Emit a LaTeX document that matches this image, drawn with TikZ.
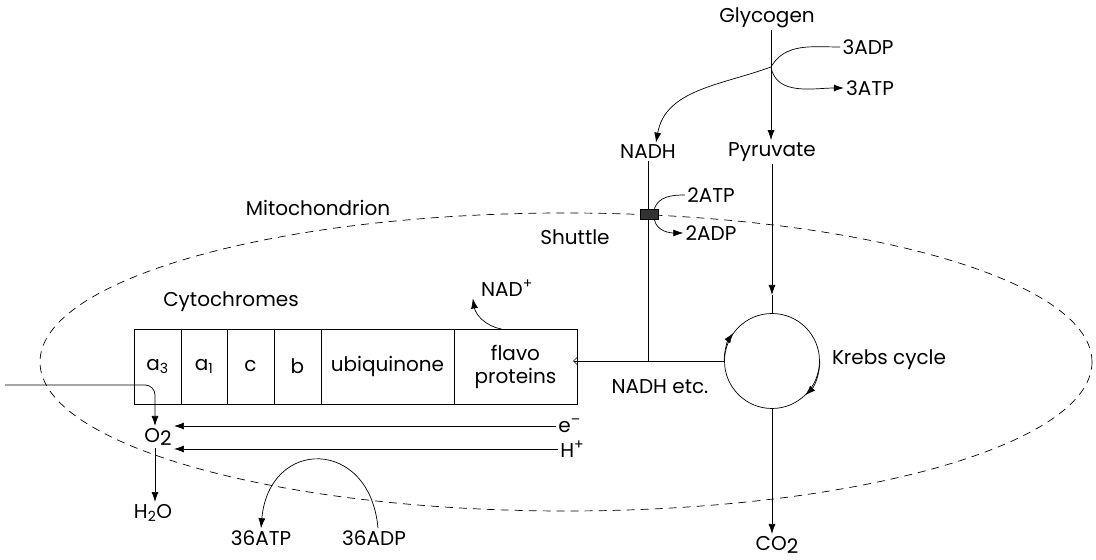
\documentclass[tikz,border=0pt]{standalone}
\usepackage{fontspec}
\setmainfont{Poppins}
\usetikzlibrary{arrows.meta}

\begin{document}
\begin{tikzpicture}
        [x=1pt,y=1pt,line width=0.7pt,
         every node/.style={font=\fontsize{20}{23}\selectfont,inner sep=2pt},
         arr/.style={-{Latex[length=10pt,width=7pt]}},
         cell/.style={draw,minimum height=75pt,inner sep=0pt,outer sep=0pt,anchor=west},
         membrane/.style={dash pattern=on 8pt off 6pt}]
        \useasboundingbox (0,0) rectangle (1096,560);

        % mitochondrion outline
        \draw[membrane] (566,198) ellipse [x radius=526, y radius=149];
        \node (mito) at (318,352) {Mitochondrion};

        % glycolysis
        \node (glyc) at (767,542) {Glycogen};
        \node (adp3) at (868,513) {3ADP};
        \node (atp3) at (870,472) {3ATP};
        \coordinate (junc) at (771,493);
        \node (nadh) at (648,408) {NADH};
        \node (pyr) at (772,408) {Pyruvate};

        \draw[arr] (glyc.south -| junc) -- (pyr.north -| junc);
        \draw (adp3.west) to[out=180,in=60] (junc);
        \draw[arr] (junc) to[out=-80,in=180] (atp3.west);
        \draw[arr] (junc) to[out=200,in=80] ([xshift=8pt]nadh.north);

        % Krebs cycle
        \node[draw,circle,minimum size=95pt,inner sep=0pt] (krebs) at (772,199) {};
        \node (krebslbl) at (889,200) {Krebs cycle};
        \draw[arr] (krebs.180) arc[start angle=180,end angle=144,radius=47.5pt];
        \draw[arr] (krebs.0) arc[start angle=0,end angle=-46,radius=47.5pt];
        \coordinate (pyrtip) at (772,265);
        \draw[arr] (pyr.south -| pyrtip) -- (pyrtip);
        \draw (pyrtip) -- (krebs.north);
        \node (co2) at (777,15) {CO\raisebox{-0.3ex}{2}};
        \draw[arr] (krebs.south) -- (krebs.south |- co2.north);

        % shuttle
        \coordinate (joint) at (nadh |- krebs.west);
        \draw (nadh) -- (joint);
        \node[draw,fill=black!80,minimum width=18pt,minimum height=10pt,inner sep=0pt] (shut) at (649,346) {};
        \node (atp2) at (711,365) {2ATP};
        \node (adp2) at (711,327) {2ADP};
        \node (shuttlelbl) at (575,323) {Shuttle};
        \draw (atp2.west) to[out=180,in=70] ([xshift=-4pt]shut.north east);
        \draw[arr] ([xshift=-4pt]shut.south east) to[out=-80,in=180] (adp2.west);

        % respiratory chain
        \node (cyto) at (231,258) {Cytochromes};
        \node[cell,minimum width=47pt] (a3) at (134,193.5) {a\textsubscript{3}};
        \node[cell,minimum width=46pt] (a1) at (a3.east) {a\textsubscript{1}};
        \node[cell,minimum width=47pt] (cc) at (a1.east) {c};
        \node[cell,minimum width=47pt] (bb) at (cc.east) {b};
        \node[cell,minimum width=133pt] (ubq) at (bb.east) {ubiquinone};
        \node[cell,minimum width=123pt,align=center] (flavo) at (ubq.east) {flavo\\proteins};
        \node (nadhetc) at (660,173) {NADH etc.};
        \draw[-{Straight Barb[length=4pt,width=8pt]},shorten >=-4pt] (krebs.west) -- (flavo.east |- krebs.west);
        \node (nadp) at (507,272) {NAD\textsuperscript{+}};
        \draw[arr] ([xshift=-14pt]flavo.north) to[out=170,in=-80] ([xshift=-6pt]nadp.south west);

        % oxygen
        \node (o2) at (158,123) {O\raisebox{-0.3ex}{2}};
        \coordinate (oin) at (5,175);
        \coordinate (odrop) at (155,0);
        \draw[arr,rounded corners=10pt] (oin) -| (odrop |- o2.north);
        \node (h2o) at (153,47) {H\textsubscript{2}O};
        \draw[arr] (odrop |- o2.south) -- (odrop |- h2o.north);
        \node[anchor=west] (elec) at (556,134) {e\textsuperscript{--}};
        \node[anchor=west] (hplus) at (558,111) {H\textsuperscript{+}};
        \draw[arr] (elec.west) -- (o2.east |- elec.west);
        \draw[arr] (hplus.west) -- (o2.east |- hplus.west);

        % phosphorylation
        \node (atp36) at (261,22) {36ATP};
        \node (adp36) at (374,22) {36ADP};
        \draw[arr] ([xshift=4pt]adp36.north) to[out=95,in=85,looseness=2] (atp36.north);
    \end{tikzpicture}
\end{document}
